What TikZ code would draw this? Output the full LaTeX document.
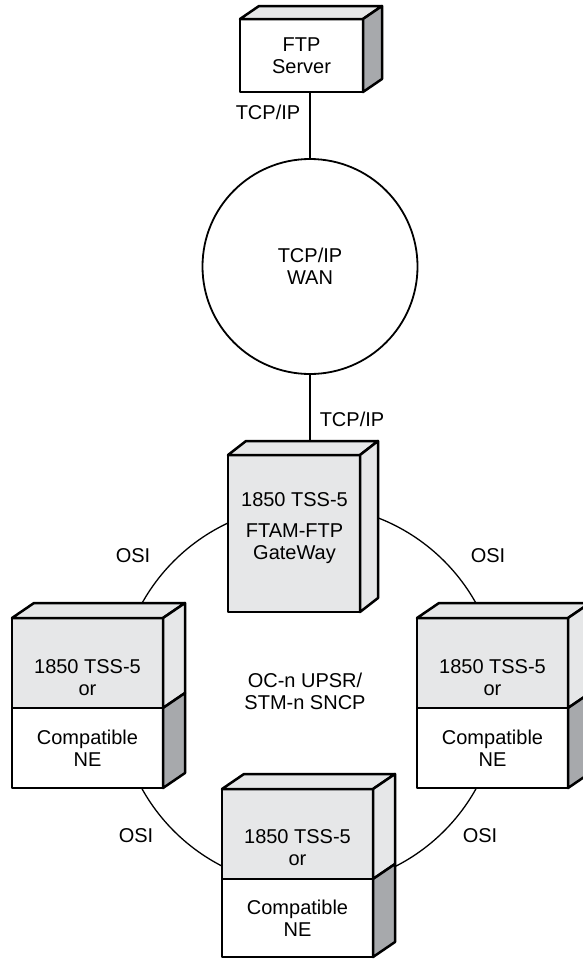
\documentclass[tikz,border=0pt]{standalone}
\usepackage{fontspec}
\setmainfont{Liberation Sans}
\usetikzlibrary{positioning,calc}
\definecolor{boxlight}{RGB}{230,231,232}
\definecolor{boxdark}{RGB}{167,169,172}

\begin{document}
\begin{tikzpicture}[x=1pt, y=-1pt,
  face/.style={draw, line width=2.5pt, line join=round, inner sep=0pt, outer sep=0pt, font=\fontsize{20}{22}\selectfont, align=center},
  lbl/.style={font=\fontsize{20}{22}\selectfont, align=center, inner sep=0pt},
  topface/.style={draw, fill=boxlight, line width=2.5pt, line join=round},
  sideface/.style={draw, fill=boxdark, line width=2.5pt, line join=round},
  link/.style={line width=1.8pt}]
  \useasboundingbox (0,0) rectangle (582,959);

  % Ring behind the boxes
  \node[draw, circle, line width=1.3pt, minimum size=382pt, inner sep=0pt] (ring) at (309,696) {};
  \node[lbl] (ringtext) at (305,691) {OC-n UPSR/\\STM-n SNCP};

  % FTP server
  \node[face, fill=white, minimum width=123pt, minimum height=73pt] (server) at (301.5,55.5) {FTP\\Server};
  \path[topface] (server.north west) -- ++(19,-13) -- ([shift={(19,-13)}]server.north east) -- (server.north east) -- cycle;
  \path[sideface] (server.north east) -- ++(19,-13) -- ([shift={(19,-13)}]server.south east) -- (server.south east) -- cycle;

  % WAN
  \node[draw, circle, line width=1.8pt, minimum size=215pt, inner sep=0pt, lbl] (wan) at (310,266.5) {TCP/IP\\WAN};
  \node[lbl] (tcptop) at (268,112) {TCP/IP};
  \node[lbl] (tcpgw) at (352,419) {TCP/IP};

  % Gateway
  \node[face, fill=boxlight, minimum width=132pt, minimum height=157pt] (gw) at (294,533.5) {};
  \node[lbl] (gwtext) at (294.5,528) {1850 TSS-5\\[9pt]FTAM-FTP\\GateWay};
  \path[topface] (gw.north west) -- ++(18,-14) -- ([shift={(18,-14)}]gw.north east) -- (gw.north east) -- cycle;
  \path[topface] (gw.north east) -- ++(18,-14) -- ([shift={(18,-14)}]gw.south east) -- (gw.south east) -- cycle;
  \coordinate (gwback) at ([shift={(18,-14)}]gw.north west);

  % Left NE
  \node[face, fill=boxlight, minimum width=151pt, minimum height=90pt] (neLup) at (87.5,663) {};
  \node[face, fill=white, minimum width=151pt, minimum height=80pt, below=0pt of neLup] (neLlow) {Compatible\\NE};
  \node[lbl] (neLtext) at (87.5,677.5) {1850 TSS-5\\or};
  \path[topface] (neLup.north west) -- ++(22,-15) -- ([shift={(22,-15)}]neLup.north east) -- (neLup.north east) -- cycle;
  \path[topface] (neLup.north east) -- ++(22,-15) -- ([shift={(22,-15)}]neLup.south east) -- (neLup.south east) -- cycle;
  \path[sideface] (neLlow.north east) -- ++(22,-15) -- ([shift={(22,-15)}]neLlow.south east) -- (neLlow.south east) -- cycle;

  % Right NE
  \node[face, fill=boxlight, minimum width=151pt, minimum height=90pt] (neRup) at (492.5,663) {};
  \node[face, fill=white, minimum width=151pt, minimum height=80pt, below=0pt of neRup] (neRlow) {Compatible\\NE};
  \node[lbl] (neRtext) at (492.5,677.5) {1850 TSS-5\\or};
  \path[topface] (neRup.north west) -- ++(22,-15) -- ([shift={(22,-15)}]neRup.north east) -- (neRup.north east) -- cycle;
  \path[topface] (neRup.north east) -- ++(22,-15) -- ([shift={(22,-15)}]neRup.south east) -- (neRup.south east) -- cycle;
  \path[sideface] (neRlow.north east) -- ++(22,-15) -- ([shift={(22,-15)}]neRlow.south east) -- (neRlow.south east) -- cycle;

  % Bottom NE
  \node[face, fill=boxlight, minimum width=151pt, minimum height=90pt] (neBup) at (297.5,834) {};
  \node[face, fill=white, minimum width=151pt, minimum height=78pt, below=0pt of neBup] (neBlow) {Compatible\\NE};
  \node[lbl] (neBtext) at (297.5,847.5) {1850 TSS-5\\or};
  \path[topface] (neBup.north west) -- ++(22,-15) -- ([shift={(22,-15)}]neBup.north east) -- (neBup.north east) -- cycle;
  \path[topface] (neBup.north east) -- ++(22,-15) -- ([shift={(22,-15)}]neBup.south east) -- (neBup.south east) -- cycle;
  \path[sideface] (neBlow.north east) -- ++(22,-15) -- ([shift={(22,-15)}]neBlow.south east) -- (neBlow.south east) -- cycle;

  % OSI labels
  \node[lbl] (osiUL) at (133,556) {OSI};
  \node[lbl] (osiUR) at (488,556) {OSI};
  \node[lbl] (osiLL) at (136,836) {OSI};
  \node[lbl] (osiLR) at (480,836) {OSI};

  % Links
  \draw[link] (wan.north) -- (wan.north |- server.south);
  \draw[link] (wan.south) -- (wan.south |- gwback);
\end{tikzpicture}
\end{document}
